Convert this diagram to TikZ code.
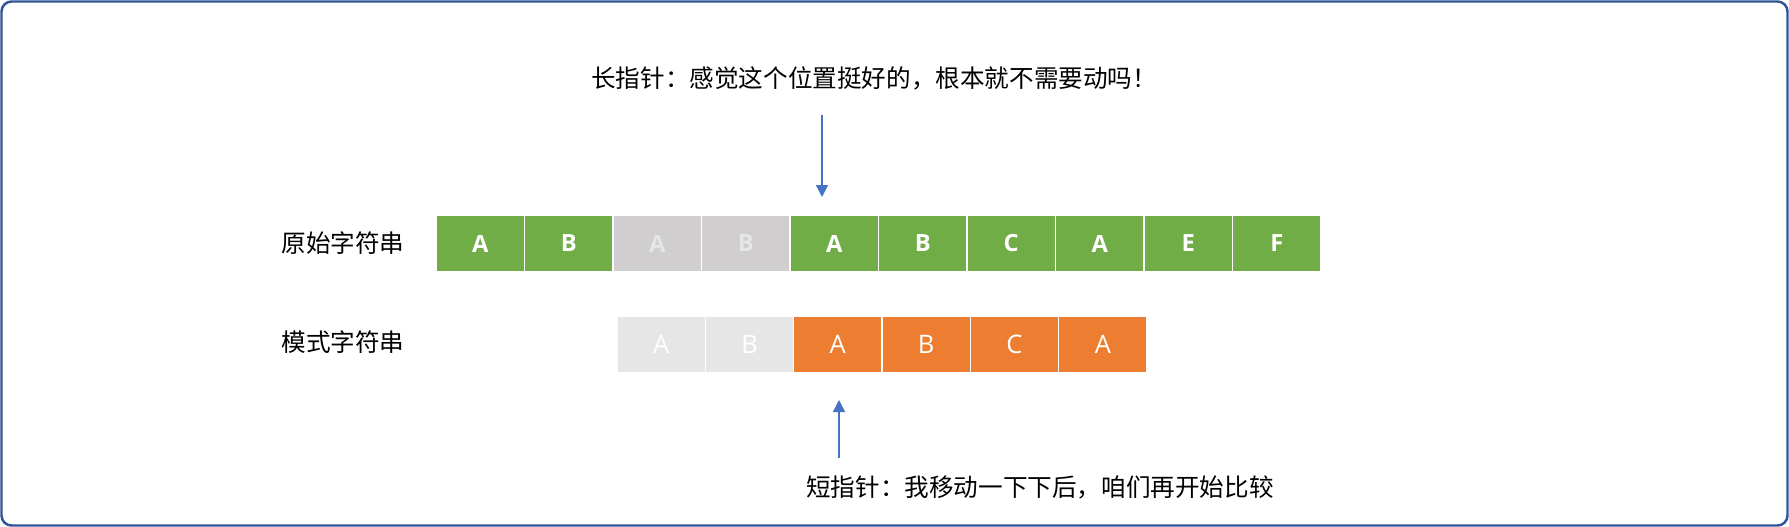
\documentclass[tikz,border=0pt]{standalone}
\usepackage{fontspec}
\setmainfont{Open Sans}
\newfontfamily\cjk{Noto Sans CJK SC}
\usetikzlibrary{arrows.meta}

\definecolor{cellgreen}{RGB}{112,173,71}
\definecolor{cellorange}{RGB}{237,125,49}
\definecolor{cellgray}{RGB}{208,206,206}
\definecolor{celllight}{RGB}{231,230,230}
\definecolor{ptrblue}{RGB}{68,114,196}
\definecolor{frameblue}{RGB}{47,85,151}

\tikzset{
  cell/.style={draw=white, line width=0.9pt, minimum height=1.14cm, inner sep=0pt, text=white},
  srccell/.style={cell, minimum width=1.77cm, font=\fontsize{13.5}{16}\selectfont\bfseries},
  patcell/.style={cell, minimum width=1.767cm, font=\fontsize{14.5}{17}\selectfont},
  ptr/.style={ptrblue, line width=0.85pt, -{Triangle[width=0.24cm,length=0.24cm]}},
  note/.style={font=\cjk\fontsize{14}{17}\selectfont, inner sep=0pt},
}

\begin{document}
\begin{tikzpicture}[x=0.02cm,y=-0.02cm]
\useasboundingbox (0,0) rectangle (1789,527);
\draw[frameblue, line width=1.4pt, rounded corners=0.2cm] (1.5,1.5) rectangle (1787.5,525.5);

\node[note, anchor=west] (longtxt) at (591,78) {长指针：感觉这个位置挺好的，根本就不需要动吗！};
\coordinate (lp) at (822,115);
\coordinate (lq) at (822,197);
\draw[ptr] (lp) -- (lq);

\node[note] (srclbl) at (343,243) {原始字符串};
\node[srccell, fill=cellgreen] (s1) at (480.25,243.5) {A};
\node[srccell, fill=cellgreen] (s2) at (568.75,243.5) {B};
\node[srccell, fill=cellgray, text=celllight] (s3) at (657.25,243.5) {A};
\node[srccell, fill=cellgray, text=celllight] (s4) at (745.75,243.5) {B};
\node[srccell, fill=cellgreen] (s5) at (834.25,243.5) {A};
\node[srccell, fill=cellgreen] (s6) at (922.75,243.5) {B};
\node[srccell, fill=cellgreen] (s7) at (1011.25,243.5) {C};
\node[srccell, fill=cellgreen] (s8) at (1099.75,243.5) {A};
\node[srccell, fill=cellgreen] (s9) at (1188.25,243.5) {E};
\node[srccell, fill=cellgreen] (s10) at (1276.75,243.5) {F};

\node[note] (patlbl) at (343,342) {模式字符串};
\node[patcell, fill=celllight] (p1) at (661.2,344.5) {A};
\node[patcell, fill=celllight] (p2) at (749.5,344.5) {B};
\node[patcell, fill=cellorange] (p3) at (837.8,344.5) {A};
\node[patcell, fill=cellorange] (p4) at (926.2,344.5) {B};
\node[patcell, fill=cellorange] (p5) at (1014.5,344.5) {C};
\node[patcell, fill=cellorange] (p6) at (1102.8,344.5) {A};

\coordinate (sp) at (839,458);
\coordinate (sq) at (839,400);
\draw[ptr] (sp) -- (sq);
\node[note, anchor=west] (shorttxt) at (806,487) {短指针：我移动一下下后，咱们再开始比较};
\end{tikzpicture}
\end{document}
